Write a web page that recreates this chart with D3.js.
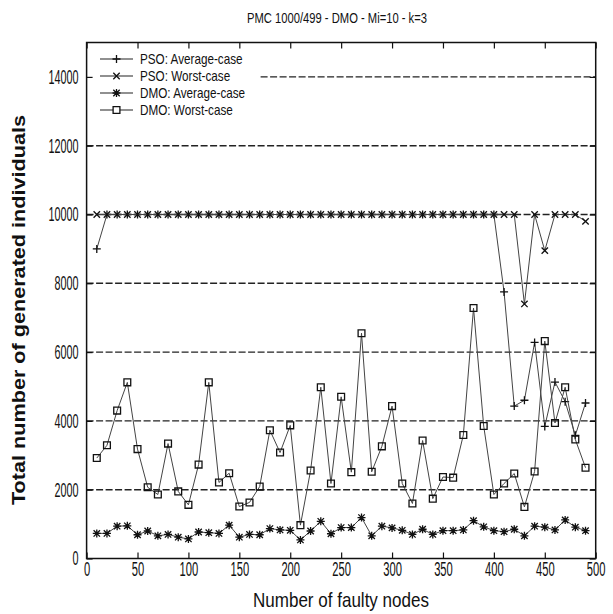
<!DOCTYPE html>
<html lang="en">
<head>
<meta charset="utf-8">
<title>PMC 1000/499 - DMO</title>
<script src="https://cdn.jsdelivr.net/npm/d3@7"></script>
<style>
  body { margin: 0; background: #fff; }
  text { font-family: "Liberation Sans", Arial, sans-serif; fill: #111; }
</style>
</head>
<body>
<div id="chart"></div>
<script>
// number of faulty nodes
var nodes = [10, 20, 30, 40, 50, 60, 70, 80, 90, 100,
             110, 120, 130, 140, 150, 160, 170, 180, 190, 200,
             210, 220, 230, 240, 250, 260, 270, 280, 290, 300,
             310, 320, 330, 340, 350, 360, 370, 380, 390, 400,
             410, 420, 430, 440, 450, 460, 470, 480, 490];

var psoAvg = [9000, 10000, 10000, 10000, 10000, 10000, 10000, 10000, 10000, 10000,
              10000, 10000, 10000, 10000, 10000, 10000, 10000, 10000, 10000, 10000,
              10000, 10000, 10000, 10000, 10000, 10000, 10000, 10000, 10000, 10000,
              10000, 10000, 10000, 10000, 10000, 10000, 10000, 10000, 10000, 10000,
              7750, 4430, 4600, 6280, 3840, 5130, 4560, 3580, 4520];

var psoWorst = [10000, 10000, 10000, 10000, 10000, 10000, 10000, 10000, 10000, 10000,
                10000, 10000, 10000, 10000, 10000, 10000, 10000, 10000, 10000, 10000,
                10000, 10000, 10000, 10000, 10000, 10000, 10000, 10000, 10000, 10000,
                10000, 10000, 10000, 10000, 10000, 10000, 10000, 10000, 10000, 10000,
                10000, 10000, 7400, 10000, 8950, 10000, 10000, 10000, 9800];

var dmoAvg = [730, 730, 940, 950, 690, 800, 660, 700, 620, 570,
              770, 750, 730, 970, 620, 700, 690, 870, 830, 820,
              540, 800, 1080, 720, 900, 900, 1190, 660, 940, 890,
              820, 700, 850, 700, 810, 810, 830, 1100, 920, 810,
              780, 850, 660, 940, 910, 830, 1120, 910, 810];

var dmoWorst = [2920, 3290, 4300, 5120, 3180, 2070, 1860, 3340, 1950, 1560,
                2730, 5120, 2210, 2480, 1510, 1630, 2090, 3730, 3080, 3870,
                970, 2560, 4980, 2180, 4700, 2510, 6550, 2520, 3260, 4430,
                2180, 1600, 3430, 1740, 2370, 2350, 3590, 7280, 3850, 1860,
                2180, 2470, 1500, 2530, 6320, 3940, 4980, 3460, 2640];

var xTicks = [0, 50, 100, 150, 200, 250, 300, 350, 400, 450, 500];
var yTicks = [0, 2000, 4000, 6000, 8000, 10000, 12000, 14000];
var gridValues = [2000, 4000, 6000, 8000, 10000, 12000, 14000];

var series = [
    {name: "PSO: Average-case", mark: "plus", values: psoAvg},
    {name: "PSO: Worst-case", mark: "cross", values: psoWorst},
    {name: "DMO: Average-case", mark: "star", values: dmoAvg},
    {name: "DMO: Worst-case", mark: "square", values: dmoWorst}
];

var margin = {top: 42.5, right: 17.3, bottom: 55.5, left: 86.6};
var width = 613 - margin.left - margin.right,
    height = 614 - margin.top - margin.bottom;

var svg = d3.select("#chart").append("svg")
    .attr("width", 613)
    .attr("height", 614);

var g = svg.append("g")
    .attr("transform", "translate(" + margin.left + "," + margin.top + ")");

var x = d3.scaleLinear().domain([0, 500]).range([0, width]);
var y = d3.scaleLinear().domain([0, 15000]).range([height, 0]);

// horizontally squeezed text, like the original picture
function squeeze(sel, k) {
    sel.each(function() {
        var w = this.getComputedTextLength();
        d3.select(this).attr("textLength", w * k).attr("lengthAdjust", "spacingAndGlyphs");
    });
}

function markPath(type, r) {
    var p = "";
    if (type == "plus" || type == "star") {
        p += "M" + (-r) + ",0L" + r + ",0M0," + (-r) + "L0," + r;
    }
    if (type == "cross" || type == "star") {
        var q = r * 0.8;
        p += "M" + (-q) + "," + (-q) + "L" + q + "," + q + "M" + (-q) + "," + q + "L" + q + "," + (-q);
    }
    if (type == "square") {
        var s = r * 0.85;
        p += "M" + (-s) + "," + (-s) + "H" + s + "V" + s + "H" + (-s) + "Z";
    }
    return p;
}

// grid lines (the 14000 one stops at the legend)
g.selectAll(".grid")
    .data(gridValues)
    .enter()
    .append("line")
    .attr("class", "grid")
    .attr("x1", function(d) { return d == 14000 ? 174 : 0; })
    .attr("x2", width)
    .attr("y1", function(d) { return y(d); })
    .attr("y2", function(d) { return y(d); })
    .style("stroke", "#222")
    .style("stroke-width", 1.4)
    .style("stroke-dasharray", "7,2.5");

// axes with inward ticks
var xAxis = g.append("g")
    .attr("transform", "translate(0," + height + ")")
    .call(d3.axisBottom(x).tickValues(xTicks).tickSizeInner(-6).tickSizeOuter(0).tickPadding(3));
xAxis.selectAll("text").style("font-size", "20px");
squeeze(xAxis.selectAll("text"), 0.56);

var yAxis = g.append("g")
    .call(d3.axisLeft(y).tickValues(yTicks).tickFormat(d3.format("d"))
        .tickSizeInner(-6).tickSizeOuter(0).tickPadding(8));
yAxis.selectAll("text").style("font-size", "20px");
squeeze(yAxis.selectAll("text"), 0.54);

g.append("g")
    .call(d3.axisTop(x).tickValues(xTicks).tickSizeInner(-6).tickSizeOuter(0).tickFormat(""));
g.append("g")
    .attr("transform", "translate(" + width + ",0)")
    .call(d3.axisRight(y).tickValues(yTicks).tickSizeInner(-6).tickSizeOuter(0).tickFormat(""));

g.selectAll(".domain").remove();
g.selectAll(".tick line").style("stroke", "#111").style("stroke-width", 1.2);

g.append("rect")
    .attr("width", width)
    .attr("height", height)
    .style("fill", "none")
    .style("stroke", "#111")
    .style("stroke-width", 1.5);

// series
var line = d3.line()
    .x(function(d, i) { return x(nodes[i]); })
    .y(function(d) { return y(d); });

series.forEach(function(s) {
    g.append("path")
        .datum(s.values)
        .attr("d", line)
        .style("fill", "none")
        .style("stroke", "#444")
        .style("stroke-width", 1);

    g.selectAll(".m-" + s.mark)
        .data(s.values)
        .enter()
        .append("path")
        .attr("class", "m-" + s.mark)
        .attr("transform", function(d, i) { return "translate(" + x(nodes[i]) + "," + y(d) + ")"; })
        .attr("d", markPath(s.mark, 4))
        .style("fill", "none")
        .style("stroke", "#111")
        .style("stroke-width", 1.3);
});

// legend
var leyenda = svg.selectAll(".leyenda")
    .data(series)
    .enter()
    .append("g")
    .attr("class", "leyenda")
    .attr("transform", function(d, i) { return "translate(0," + (59 + i * 17) + ")"; });

leyenda.append("line")
    .attr("x1", 100)
    .attr("x2", 133)
    .style("stroke", "#222")
    .style("stroke-width", 1.2);

leyenda.append("path")
    .attr("transform", "translate(116.5,0)")
    .attr("d", function(d) { return markPath(d.mark, 4); })
    .style("fill", "#fff")
    .style("stroke", "#111")
    .style("stroke-width", 1.3);

var legText = leyenda.append("text")
    .attr("x", 140)
    .attr("dy", "0.36em")
    .style("font-size", "15px")
    .text(function(d) { return d.name; });
squeeze(legText, 0.78);

// title and axis labels
var title = svg.append("text")
    .attr("x", 337)
    .attr("y", 23)
    .style("text-anchor", "middle")
    .style("font-size", "15px")
    .text("PMC 1000/499 - DMO - Mi=10 - k=3");
title.attr("textLength", 180).attr("lengthAdjust", "spacingAndGlyphs");

svg.append("text")
    .attr("x", 341)
    .attr("y", 607)
    .style("text-anchor", "middle")
    .style("font-size", "21px")
    .attr("textLength", 176)
    .attr("lengthAdjust", "spacingAndGlyphs")
    .text("Number of faulty nodes");

svg.append("text")
    .attr("transform", "translate(25,310) rotate(-90)")
    .style("text-anchor", "middle")
    .style("font-size", "18px")
    .style("font-weight", "bold")
    .attr("textLength", 390)
    .attr("lengthAdjust", "spacingAndGlyphs")
    .text("Total number of generated individuals");
</script>
</body>
</html>
